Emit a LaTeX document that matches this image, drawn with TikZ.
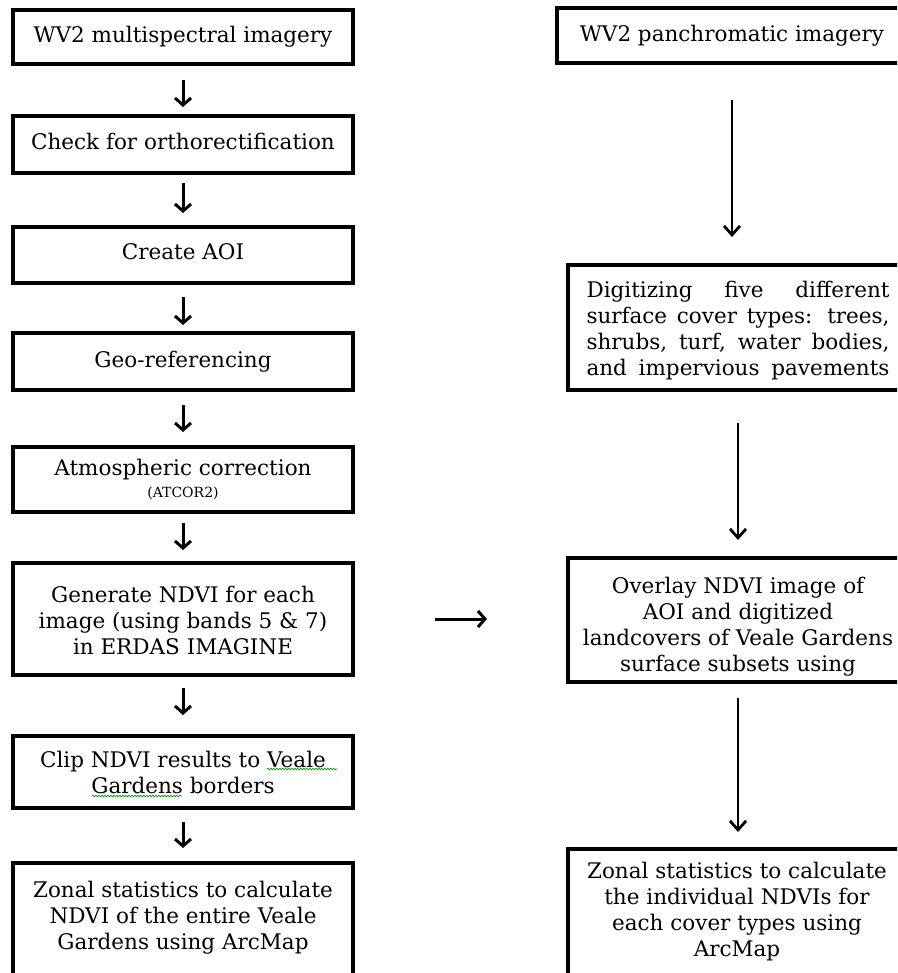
\documentclass[tikz,border=0pt]{standalone}
\usepackage{fontspec}
\setmainfont{DejaVu Serif}
\usetikzlibrary{arrows.meta,decorations.pathmorphing}
\begin{document}
\begin{tikzpicture}[x=1pt,y=-1pt,
  box/.style={draw=black,line width=3.4pt,anchor=north west,inner sep=0pt,outer sep=0pt},
  txt/.style={align=center,font=\fontsize{21.5}{26}\selectfont,inner sep=0pt},
  small/.style={font=\fontsize{14}{15}\selectfont,inner sep=0pt},
  sarrow/.style={line width=3pt,-{Straight Barb[length=7pt,width=16pt]}},
  larrow/.style={line width=2.8pt,-{Straight Barb[length=9pt,width=16pt]}},
  squig/.style={draw=green!60!black,line width=0.7pt,decorate,decoration={snake,segment length=3pt,amplitude=0.8pt}}]
\useasboundingbox (0,0) rectangle (897,973);
\clip (0,0) rectangle (897,973);
% left column boxes
\node[box,minimum width=340pt,minimum height=54pt] (b1) at (13,10) {};
\node[box,minimum width=340pt,minimum height=57pt] (b2) at (13,116) {};
\node[box,minimum width=340pt,minimum height=56pt] (b3) at (13,227) {};
\node[box,minimum width=340pt,minimum height=57pt] (b4) at (13,333) {};
\node[box,minimum width=340pt,minimum height=65pt] (b5) at (13,447) {};
\node[box,minimum width=340pt,minimum height=112pt] (b6) at (13,563) {};
\node[box,minimum width=340pt,minimum height=72pt] (b7) at (13,736) {};
\node[box,minimum width=340pt,minimum height=150pt] (b8) at (13,863) {};
% right column boxes
\node[box,minimum width=350pt,minimum height=55pt] (r1) at (557,8) {};
\node[box,minimum width=340pt,minimum height=125pt] (r2) at (568,265) {};
\node[box,minimum width=340pt,minimum height=124pt] (r3) at (568,558) {};
\node[box,minimum width=340pt,minimum height=150pt] (r4) at (568,849) {};
% left texts
\node[txt] (t1) at (183,37) {WV2 multispectral imagery};
\node[txt] (t2) at (183,141) {Check for orthorectification};
\node[txt] (t3) at (183,252) {Create AOI};
\node[txt] (t4) at (183,362) {Geo-referencing};
\node[txt] (t5) at (183,470) {Atmospheric correction};
\node[small] (t5b) at (183,493) {(ATCOR2)};
\node[txt] (t6) at (183,620) {Generate NDVI for each\\image (using bands 5 \& 7)\\in ERDAS IMAGINE};
\node[txt] (t7) at (183,772) {Clip NDVI results to Veale\\Gardens borders};
\node[txt] (t8) at (183,918) {Zonal statistics to calculate\\NDVI of the entire Veale\\Gardens using ArcMap};
% right texts
\node[txt] (rt1) at (732,36) {WV2 panchromatic imagery};
\begin{scope}
\clip (r2.north west) rectangle (r2.south east);
\node[txt,align=left] (rt2) at (738,331) {\makebox[303pt][s]{Digitizing five different}\\\makebox[303pt][s]{surface cover types: trees,}\\\makebox[303pt][s]{shrubs, turf, water bodies,}\\\makebox[303pt][s]{and impervious pavements}};
\end{scope}
\begin{scope}
\clip (r3.north west) rectangle (r3.south east);
\node[txt] (rt3) at (738,627) {Overlay NDVI image of\\AOI and digitized\\landcovers of Veale Gardens\\surface subsets using};
\end{scope}
\node[txt] (rt4) at (737,912) {Zonal statistics to calculate\\the individual NDVIs for\\each cover types using\\ArcMap};
% spell-check squiggles
\coordinate (s1a) at (267,769);
\coordinate (s1b) at (337,769);
\coordinate (s2a) at (92,796);
\coordinate (s2b) at (182,796);
\draw[squig] (s1a) -- (s1b);
\draw[squig] (s2a) -- (s2b);
% left arrows
\draw[sarrow,shorten <=16pt,shorten >=9pt] (b1) -- (b2);
\draw[sarrow,shorten <=10pt,shorten >=14pt] (b2) -- (b3);
\draw[sarrow,shorten <=14pt,shorten >=8pt] (b3) -- (b4);
\draw[sarrow,shorten <=15pt,shorten >=15pt] (b4) -- (b5);
\draw[sarrow,shorten <=11pt,shorten >=13pt] (b5) -- (b6);
\draw[sarrow,shorten <=13pt,shorten >=21pt] (b6) -- (b7);
\draw[sarrow,shorten <=14pt,shorten >=15pt] (b7) -- (b8);
% right arrows
\draw[larrow,shorten <=37pt,shorten >=28pt] (r1.south) -- (r2.north -| r1.south);
\draw[larrow,shorten <=33pt,shorten >=18pt] (r2) -- (r3);
\draw[larrow,shorten <=16pt,shorten >=17pt] (r3) -- (r4);
% horizontal arrow
\draw[sarrow,shorten <=82pt,shorten >=81pt] (b6.east) -- (r3.west |- b6.east);
\end{tikzpicture}
\end{document}
